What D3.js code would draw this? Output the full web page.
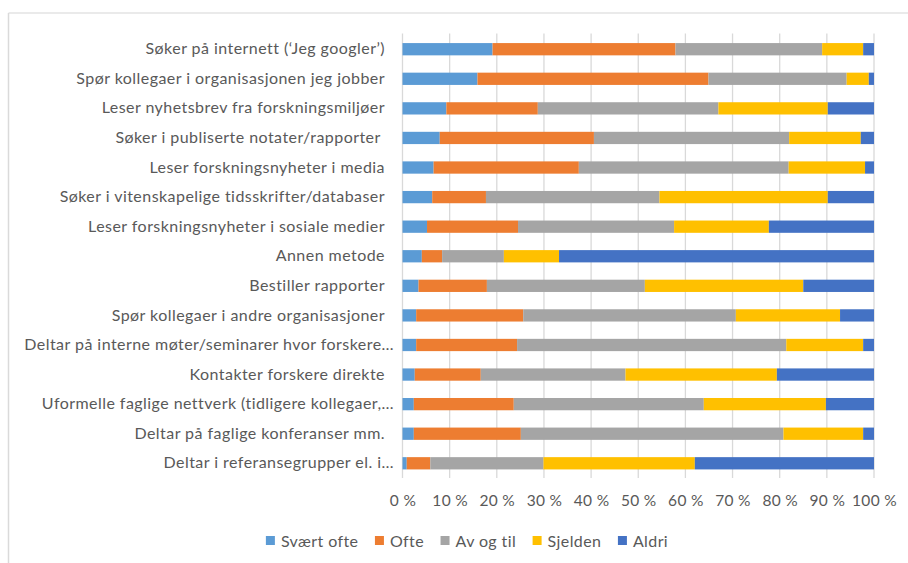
<!DOCTYPE html>
<html>
<head>
<meta charset="utf-8">
<script src="https://cdn.jsdelivr.net/npm/d3@7"></script>
<style>
  html, body { margin: 0; padding: 0; background: #fff; }
  svg { display: block; }
  text { font-family: Lato, "Open Sans", sans-serif; fill: #595959; }
</style>
</head>
<body>
<svg id="chart" width="908" height="563"></svg>
<script>
const categories = [
  "Søker på internett (‘Jeg googler’)",
  "Spør kollegaer i organisasjonen jeg jobber",
  "Leser nyhetsbrev fra forskningsmiljøer",
  "Søker i publiserte notater/rapporter ",
  "Leser forskningsnyheter i media",
  "Søker i vitenskapelige tidsskrifter/databaser",
  "Leser forskningsnyheter i sosiale medier",
  "Annen metode",
  "Bestiller rapporter",
  "Spør kollegaer i andre organisasjoner",
  "Deltar på interne møter/seminarer hvor forskere…",
  "Kontakter forskere direkte",
  "Uformelle faglige nettverk (tidligere kollegaer,…",
  "Deltar på faglige konferanser mm.",
  "Deltar i referansegrupper el. i…"
];
const seriesNames = ["Svært ofte", "Ofte", "Av og til", "Sjelden", "Aldri"];
const seriesColors = ["#5B9BD5", "#ED7D31", "#A5A5A5", "#FFC000", "#4472C4"];
const svaertOfte = [19.1, 15.9, 9.3, 7.9, 6.6, 6.3, 5.2, 4.1, 3.4, 2.9, 2.9, 2.6, 2.4, 2.4, 0.9];
const ofte       = [38.8, 49.0, 19.4, 32.7, 30.8, 11.4, 19.3, 4.3, 14.5, 22.7, 21.4, 14.0, 21.2, 22.7, 5.0];
const avOgTil    = [31.1, 29.3, 38.3, 41.4, 44.5, 36.8, 33.1, 13.1, 33.5, 45.1, 57.1, 30.7, 40.3, 55.7, 24.0];
const sjelden    = [8.7, 4.7, 23.2, 15.2, 16.2, 35.7, 20.1, 11.7, 33.6, 22.1, 16.3, 32.1, 25.9, 16.9, 32.1];
const aldri      = [2.3, 1.1, 9.8, 2.8, 1.9, 9.8, 22.3, 66.8, 15.0, 7.2, 2.3, 20.6, 10.2, 2.3, 38.0];
const tickValues = [0, 0.1, 0.2, 0.3, 0.4, 0.5, 0.6, 0.7, 0.8, 0.9, 1.0];
const tickLabels = ["0 %", "10 %", "20 %", "30 %", "40 %", "50 %", "60 %", "70 %", "80 %", "90 %", "100 %"];

const seriesValues = [svaertOfte, ofte, avOgTil, sjelden, aldri];
const rows = categories.map((c, i) => {
  const o = { cat: c };
  seriesNames.forEach((s, j) => o[s] = seriesValues[j][i]);
  return o;
});
rows.forEach(r => {
  const tot = d3.sum(seriesNames, s => r[s]);
  seriesNames.forEach(s => r[s] = r[s] / tot);
});

const svg = d3.select("#chart");

svg.append("line").attr("x1", 8.5).attr("x2", 908).attr("y1", 13).attr("y2", 13)
  .attr("stroke", "#E3E3E3").attr("stroke-width", 1.5);
svg.append("line").attr("x1", 8.5).attr("x2", 8.5).attr("y1", 13).attr("y2", 563)
  .attr("stroke", "#DADADA").attr("stroke-width", 1.5);

const pLeft = 402.5, pRight = 874, pTop = 33.5, pBottom = 478;
const x = d3.scaleLinear().domain([0, 1]).range([pLeft, pRight]);
const y = d3.scaleBand().domain(categories).range([pTop + 1, pBottom]).paddingInner(0.585).paddingOuter(0.29);

svg.append("g").selectAll("line").data(tickValues).join("line")
  .attr("x1", d => x(d)).attr("x2", d => x(d))
  .attr("y1", pTop).attr("y2", pBottom)
  .attr("stroke", "#D9D9D9").attr("stroke-width", 1.3);

const stack = d3.stack().keys(seriesNames)(rows);
svg.append("g").selectAll("g").data(stack).join("g")
  .attr("fill", (d, i) => seriesColors[i])
  .selectAll("rect").data(d => d).join("rect")
  .attr("x", d => x(d[0]))
  .attr("width", d => x(d[1]) - x(d[0]))
  .attr("y", d => y(d.data.cat))
  .attr("height", y.bandwidth());

const yAxis = d3.axisLeft(y).tickSize(0).tickPadding(17.5);
const gy = svg.append("g").attr("transform", `translate(${pLeft},0)`).call(yAxis);
gy.select(".domain").remove();
gy.selectAll("text").attr("font-size", 16).attr("fill", "#595959")
  .style("font-family", "Lato, sans-serif").style("white-space", "pre")
  .style("letter-spacing", "0.45px")
  .attr("dx", d => d.endsWith("…") ? 9 : 0);

const xAxis = d3.axisBottom(x).tickValues(tickValues).tickFormat((d, i) => tickLabels[i]).tickSize(0).tickPadding(0);
const gx = svg.append("g").attr("transform", `translate(0,${495})`).call(xAxis);
gx.select(".domain").remove();
gx.selectAll("text").attr("font-size", 15.5).attr("fill", "#595959")
  .style("font-family", "Lato, sans-serif").style("letter-spacing", "0.3px");

const lg = svg.append("g");
let cx = 0;
const gap = 16.5;
seriesNames.forEach((s, i) => {
  const g = lg.append("g").attr("transform", `translate(${cx},0)`);
  g.append("rect").attr("x", 0).attr("y", -5).attr("width", 9).attr("height", 9).attr("fill", seriesColors[i]);
  const t = g.append("text").attr("x", 15).attr("y", 0).attr("dy", "0.35em")
    .attr("font-size", 16).style("letter-spacing", "0.4px").text(s);
  const w = t.node().getComputedTextLength();
  cx += 15 + w + gap;
});
const totalW = cx - gap;
lg.attr("transform", `translate(${467 - totalW / 2},541)`);
</script>
</body>
</html>
